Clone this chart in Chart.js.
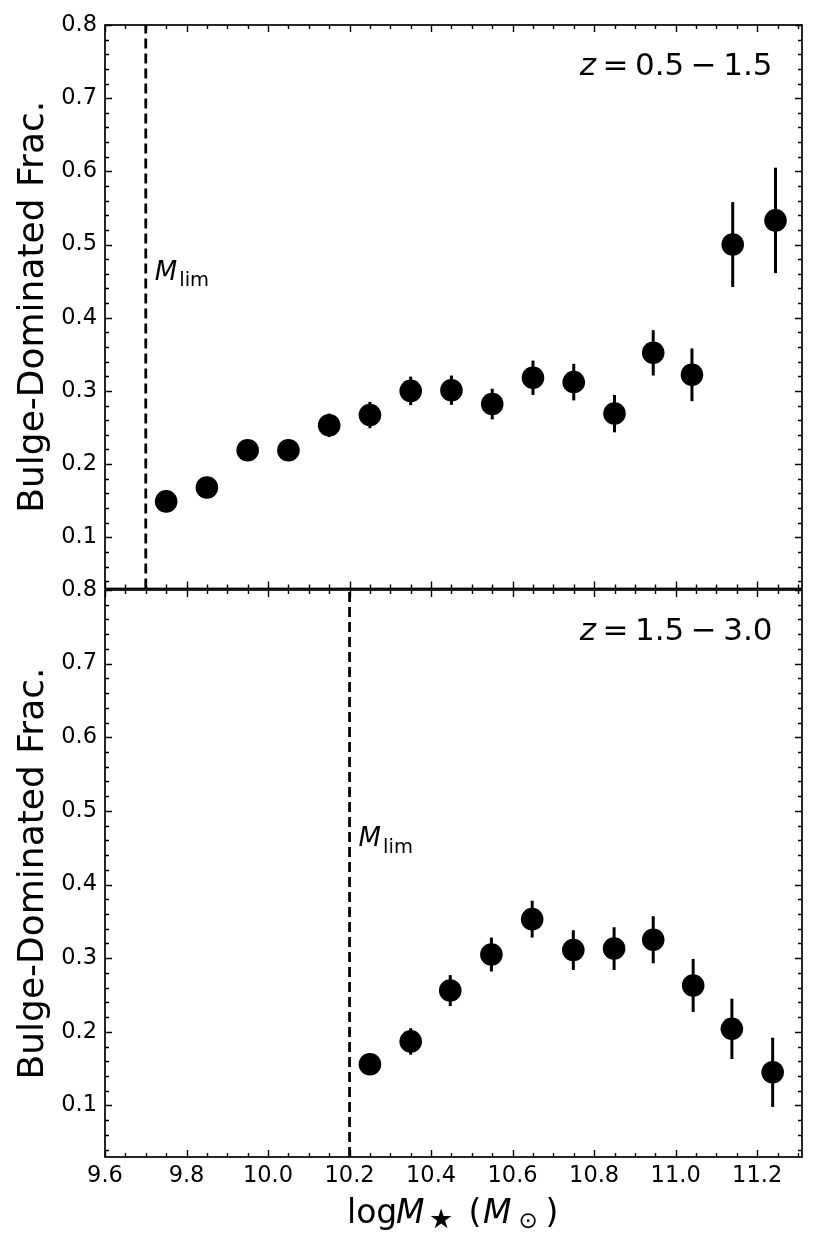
<!DOCTYPE html>
<html><head><meta charset="utf-8">
<script src="https://cdn.jsdelivr.net/npm/chart.js@4.4.0/dist/chart.umd.min.js"></script>
<style>
html,body{margin:0;padding:0;background:#fff;}
#wrap{position:relative;width:818px;height:1250px;overflow:hidden;}
canvas{position:absolute;left:0;}
#c1{top:0;}
#c2{top:560px;}
</style></head><body>
<div id="wrap">
<canvas id="c1" width="818" height="610"></canvas>
<canvas id="c2" width="818" height="690"></canvas>
</div>
<script>
// ---- data ----
const massTop = [9.75, 9.85, 9.95, 10.05, 10.15, 10.25, 10.35, 10.45, 10.55, 10.65, 10.75, 10.85, 10.945, 11.04, 11.14, 11.245];
const fracTop = [0.149, 0.168, 0.219, 0.219, 0.253, 0.267, 0.300, 0.301, 0.282, 0.318, 0.312, 0.269, 0.352, 0.322, 0.500, 0.533];
const errTop  = [0.008, 0.010, 0.012, 0.012, 0.016, 0.018, 0.0195, 0.020, 0.021, 0.0235, 0.025, 0.0256, 0.031, 0.036, 0.058, 0.072];
const massBot = [10.25, 10.35, 10.447, 10.548, 10.648, 10.749, 10.849, 10.945, 11.043, 11.138, 11.238];
const fracBot = [0.156, 0.187, 0.256, 0.305, 0.353, 0.311, 0.313, 0.325, 0.263, 0.204, 0.145];
const errBot  = [0.014, 0.018, 0.021, 0.023, 0.025, 0.027, 0.029, 0.032, 0.036, 0.041, 0.047];
const mLimTop = 9.7;
const mLimBot = 10.2;
const zTop = ['0.5', '1.5'];
const zBot = ['1.5', '3.0'];
const xTickLabels = [9.6, 9.8, 10.0, 10.2, 10.4, 10.6, 10.8, 11.0, 11.2];
const yTickLabels = [0.1, 0.2, 0.3, 0.4, 0.5, 0.6, 0.7, 0.8];
const xMin = 9.6, xMax = 11.31, yMin = 0.03, yMax = 0.8;
const yTitle = 'Bulge-Dominated Frac.';

const FONT = '"DejaVu Sans"';
const tickFont = {family: 'DejaVu Sans', size: 22.5};

const deco = {
  id: 'panelDeco',
  beforeDatasetsDraw(chart, args, opts) {
    const {ctx, scales: {x, y}} = chart;
    const ds = chart.data.datasets[1];
    ctx.save();
    ctx.strokeStyle = '#000'; ctx.lineWidth = 3; ctx.lineCap = 'butt';
    ds.data.forEach((p, i) => {
      const e = ds.errors[i];
      const px = x.getPixelForValue(p.x);
      ctx.beginPath();
      ctx.moveTo(px, y.getPixelForValue(p.y - e));
      ctx.lineTo(px, y.getPixelForValue(p.y + e));
      ctx.stroke();
    });
    ctx.restore();
  },
  afterDatasetsDraw(chart, args, opts) {
    const {ctx, chartArea: a, scales: {x, y}} = chart;
    ctx.save();
    ctx.strokeStyle = '#000';
    ctx.lineWidth = 1.4;
    ctx.beginPath();
    for (let i = 192; i <= 226; i++) {
      const v = i * 0.05;
      if (v < xMin - 1e-9 || v > xMax + 1e-9) continue;
      const L = (i % 4 === 0) ? 7 : 4;
      const px = Math.round(x.getPixelForValue(v)) + 0.5;
      ctx.moveTo(px, a.bottom); ctx.lineTo(px, a.bottom - L);
      ctx.moveTo(px, a.top); ctx.lineTo(px, a.top + L);
    }
    for (let i = 1; i <= 40; i++) {
      const v = i * 0.02;
      if (v < yMin - 1e-9 || v > yMax + 1e-9) continue;
      const L = (i % 5 === 0) ? 7 : 4;
      const py = Math.round(y.getPixelForValue(v)) + 0.5;
      ctx.moveTo(a.left, py); ctx.lineTo(a.left + L, py);
      ctx.moveTo(a.right, py); ctx.lineTo(a.right - L, py);
    }
    ctx.stroke();
    ctx.lineWidth = 1.7;
    ctx.strokeRect(a.left, a.top, a.right - a.left, a.bottom - a.top);
    ctx.restore();
  },
  afterDraw(chart, args, opts) {
    const {ctx, chartArea: a, scales: {x, y}} = chart;
    ctx.save();
    ctx.fillStyle = '#000';
    ctx.textBaseline = 'alphabetic';
    ctx.textAlign = 'left';
    // M_lim label
    const mx = x.getPixelForValue(opts.mLim) + 9;
    const my = y.getPixelForValue(0.452);
    ctx.font = 'italic 26px ' + FONT;
    ctx.fillText('M', mx, my);
    ctx.font = '19.5px ' + FONT;
    ctx.fillText('lim', mx + 24.5, my + 6.5);
    // redshift label
    const runs = [
      ['italic 31px ' + FONT, 'z'],
      ['31px ' + FONT, '='],
      ['31px ' + FONT, opts.z[0]],
      ['31px ' + FONT, '\u2212'],
      ['31px ' + FONT, opts.z[1]]
    ];
    const gap = 6.5;
    let total = 0;
    runs.forEach((r, i) => { ctx.font = r[0]; total += ctx.measureText(r[1]).width + (i ? gap : 0); });
    let zx = a.right - 29.5 - total;
    const zy = a.top + 49.5;
    runs.forEach((r) => { ctx.font = r[0]; ctx.fillText(r[1], zx, zy); zx += ctx.measureText(r[1]).width + gap; });
    // y title
    ctx.save();
    ctx.translate(43, (a.top + a.bottom) / 2);
    ctx.rotate(-Math.PI / 2);
    ctx.textAlign = 'center';
    ctx.font = '36px ' + FONT;
    ctx.fillText(yTitle, 0, 0);
    ctx.restore();
    // x title
    if (opts.showX) {
      const cx = (a.left + a.right) / 2 - 106.5;
      const by = a.bottom + 66.3;
      ctx.font = '33px ' + FONT;
      ctx.fillText('log', cx, by);
      ctx.font = 'italic 33px ' + FONT;
      ctx.fillText('M', cx + 49, by);
      ctx.font = '27px ' + FONT;
      ctx.fillText('\u2605', cx + 82, by + 5);
      ctx.font = '33px ' + FONT;
      ctx.fillText('(', cx + 121.5, by);
      ctx.font = 'italic 33px ' + FONT;
      ctx.fillText('M', cx + 136, by);
      ctx.font = '23px ' + FONT;
      ctx.fillText('\u2299', cx + 171.5, by + 4.7);
      ctx.font = '33px ' + FONT;
      ctx.fillText(')', cx + 198.5, by);
    }
    ctx.restore();
  }
};

function panelConfig(mass, frac, err, mLim, z, showX, padTop, xAxisH) {
  return {
    type: 'scatter',
    data: {
      datasets: [
        {type: 'line', data: [{x: mLim, y: yMin}, {x: mLim, y: yMax}],
         borderColor: '#000', borderWidth: 2.8, borderDash: [10, 5],
         pointRadius: 0, fill: false, order: 2},
        {type: 'scatter', data: mass.map((m, i) => ({x: m, y: frac[i]})),
         errors: err, backgroundColor: '#000', borderColor: '#000',
         pointRadius: 11.3, pointHoverRadius: 11.3, pointBorderWidth: 0, order: 1}
      ]
    },
    options: {
      responsive: false, animation: false, devicePixelRatio: 1,
      events: [],
      layout: {padding: {top: padTop, right: 16, left: 0, bottom: 0}},
      plugins: {
        legend: {display: false}, tooltip: {enabled: false},
        panelDeco: {mLim: mLim, z: z, showX: showX}
      },
      scales: {
        x: {
          type: 'linear', min: xMin, max: xMax,
          grid: {display: false, drawTicks: false}, border: {display: false},
          ticks: {display: showX, font: tickFont, color: '#000', padding: 6,
                  autoSkip: false, maxRotation: 0, minRotation: 0,
                  callback: v => Number(v).toFixed(1)},
          afterBuildTicks: s => { s.ticks = xTickLabels.map(v => ({value: v})); },
          afterFit: s => { s.height = xAxisH; }
        },
        y: {
          type: 'linear', min: yMin, max: yMax,
          grid: {display: false, drawTicks: false}, border: {display: false},
          ticks: {font: tickFont, color: '#000', padding: 8,
                  callback: v => Number(v).toFixed(1)},
          afterBuildTicks: s => { s.ticks = yTickLabels.map(v => ({value: v})); },
          afterFit: s => { s.width = 105; }
        }
      }
    },
    plugins: [deco]
  };
}

new Chart(document.getElementById('c1'),
  panelConfig(massTop, fracTop, errTop, mLimTop, zTop, false, 25, 20));
new Chart(document.getElementById('c2'),
  panelConfig(massBot, fracBot, errBot, mLimBot, zBot, true, 30, 93));
</script>
</body></html>
